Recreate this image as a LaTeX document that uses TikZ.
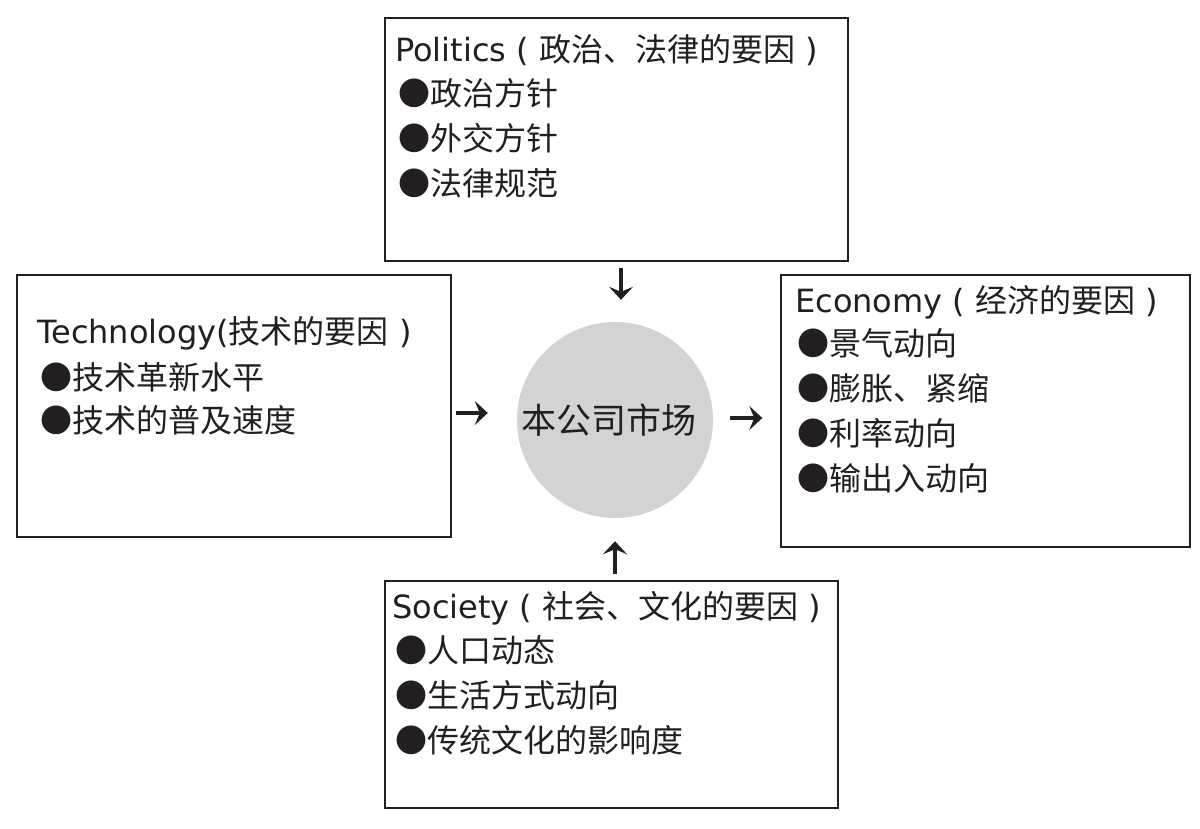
\documentclass[tikz,border=0pt]{standalone}
\usepackage{fontspec}
\setmainfont{DejaVu Sans}
\newfontfamily\cjk{Noto Sans CJK SC}
\usetikzlibrary{arrows.meta}
\definecolor{ink}{HTML}{231F20}
\definecolor{disc}{HTML}{D1D3D4}
\begin{document}
\begin{tikzpicture}[x=1pt,y=-1pt,
  box/.style={draw=ink,line width=1.4pt,rectangle,inner sep=0pt},
  txt/.style={anchor=west,inner sep=0pt,text=ink,font=\fontsize{32}{38}\selectfont},
  arr/.style={draw=ink,line width=3.2pt,-{Stealth[length=13pt,width=24pt,inset=5pt]}}]
\useasboundingbox (0,0) rectangle (1200,828);
\fill[white] (0,0) rectangle (1200,828);
% boxes
\node[box,minimum width=463pt,minimum height=243pt] (pol) at (616.5,139.5) {};
\node[box,minimum width=434pt,minimum height=262pt] (tech) at (234,406) {};
\node[box,minimum width=409pt,minimum height=272pt] (eco) at (985.5,411) {};
\node[box,minimum width=453pt,minimum height=227pt] (soc) at (611.5,694.5) {};
\node[circle,fill=disc,minimum size=196pt,inner sep=0pt] (circ) at (615,420) {};
\node[inner sep=0pt,text=ink,font=\cjk\fontsize{35}{40}\selectfont] (circT) at (609,420) {本公司市场};
% politics
\node[txt] (polT) at (395,50) {Politics ( {\cjk 政治、法律的要因} )};
\node[txt] (polA) at (398,93) {\cjk ●政治方针};
\node[txt] (polB) at (398,138) {\cjk ●外交方针};
\node[txt] (polC) at (398,183) {\cjk ●法律规范};
% technology
\node[txt] (techT) at (37,333) {Technology({\cjk 技术的要因} )};
\node[txt] (techA) at (40,377) {\cjk ●技术革新水平};
\node[txt] (techB) at (40,420) {\cjk ●技术的普及速度};
% economy
\node[txt] (ecoT) at (795,302) {Economy ( {\cjk 经济的要因} )};
\node[txt] (ecoA) at (797,343) {\cjk ●景气动向};
\node[txt] (ecoB) at (797,388) {\cjk ●膨胀、紧缩};
\node[txt] (ecoC) at (797,433) {\cjk ●利率动向};
\node[txt] (ecoD) at (797,478) {\cjk ●输出入动向};
% society
\node[txt] (socT) at (392,608) {Society ( {\cjk 社会、文化的要因} )};
\node[txt] (socA) at (395,650) {\cjk ●人口动态};
\node[txt] (socB) at (395,695) {\cjk ●生活方式动向};
\node[txt] (socC) at (395,740) {\cjk ●传统文化的影响度};
% arrows
\draw[arr,shorten <=6pt,shorten >=22pt] ([xshift=4.5pt]pol.south) -- ([xshift=6pt]circ.north);
\draw[arr,shorten <=4pt,shorten >=29pt] ([yshift=-7pt]tech.east) -- ([yshift=7pt]circ.west);
\draw[arr,shorten <=17pt,shorten >=18pt] ([yshift=2pt]circ.east) -- ([yshift=-7pt]eco.west);
\draw[arr,shorten <=6pt,shorten >=23pt] ([xshift=3.5pt]soc.north) -- (circ.south);
\end{tikzpicture}
\end{document}
